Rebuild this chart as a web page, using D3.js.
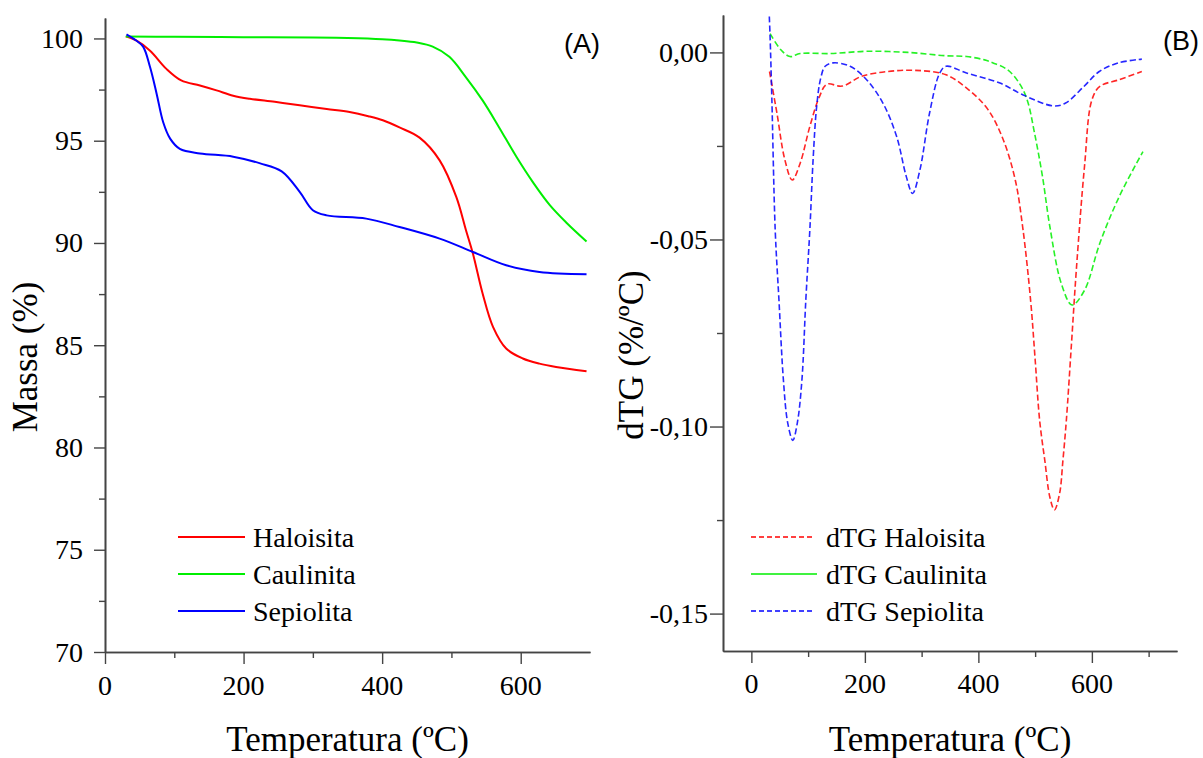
<!DOCTYPE html>
<html>
<head>
<meta charset="utf-8">
<script src="https://d3js.org/d3.v7.min.js"></script>
<style>
  body { margin: 0; background: #fff; }
  text { font-family: "Liberation Serif", "Times New Roman", serif; fill: #000; }
</style>
</head>
<body>
<div id="chart"></div>
<script>
// TG curves (panel A), temperatures in ºC, mass in %
var tgHalT = [30, 45, 65, 89, 110, 137, 161, 185, 209, 245, 281, 320, 353, 380, 401, 425, 454, 483, 507, 521, 531, 545, 560, 579, 603, 627, 651, 695];
var tgHal  = [100.1, 99.9, 99.4, 98.5, 97.95, 97.7, 97.46, 97.2, 97.05, 96.9, 96.73, 96.55, 96.4, 96.2, 96.0, 95.65, 95.15, 94.04, 92.25, 90.62, 89.48, 87.53, 85.9, 84.84, 84.35, 84.1, 83.94, 83.73];
var tgCauT = [30, 100, 200, 300, 350, 400, 425, 450, 473, 497, 521, 545, 568, 594, 618, 642, 666, 695];
var tgCau  = [100.1, 100.08, 100.06, 100.05, 100.02, 99.96, 99.9, 99.8, 99.6, 99.1, 98.1, 96.97, 95.7, 94.2, 92.95, 91.85, 90.99, 90.07];
var tgSepT = [31, 45, 55, 65, 74.5, 84, 94, 108, 137, 185, 224, 255, 281, 300, 320, 377, 425, 483, 531, 579, 627, 695];
var tgSep  = [100.2, 99.9, 99.6, 98.6, 97.3, 95.9, 95.1, 94.6, 94.38, 94.22, 93.89, 93.5, 92.5, 91.6, 91.35, 91.19, 90.78, 90.21, 89.56, 88.91, 88.58, 88.47];

// dTG curves (panel B), %/ºC
var dtgHalT = [32, 45, 59, 72, 86, 103, 120, 133, 160, 194, 241, 289, 343, 383, 417, 444, 465, 478, 492, 500, 508, 517, 526, 534, 543, 549, 555, 564, 573, 587, 600, 614, 648, 688];
var dtgHal  = [-0.0051, -0.0162, -0.0287, -0.0341, -0.0296, -0.0198, -0.0118, -0.0085, -0.009, -0.0064, -0.0051, -0.0048, -0.006, -0.01, -0.0153, -0.0234, -0.0341, -0.0466, -0.0662, -0.082, -0.0984, -0.109, -0.1189, -0.1223, -0.118, -0.109, -0.0984, -0.078, -0.0573, -0.0305, -0.0127, -0.0091, -0.0073, -0.0051];
var dtgCauT = [33, 52, 68, 86, 140, 203, 276, 343, 379, 411, 426, 451, 472, 486, 499, 513, 526, 546, 565, 587, 614, 648, 690];
var dtgCau  = [0.005, 0.0007, -0.0011, -0.0003, -0.0003, 0.0003, 0.0, -0.0009, -0.0011, -0.002, -0.0028, -0.0046, -0.0082, -0.0127, -0.0216, -0.0332, -0.0466, -0.0617, -0.0675, -0.0636, -0.051, -0.0386, -0.0265];
var dtgSepT = [31, 33, 36, 42, 48.6, 56.5, 64, 73, 81, 89, 96, 103, 109, 115, 122, 130, 144, 174, 203, 232, 256, 273, 284, 297, 314, 332, 343, 379, 438, 478, 532, 553, 586, 613, 647, 688];
var dtgSep  = [0.012, 0.004, -0.0118, -0.0475, -0.0662, -0.0877, -0.099, -0.1037, -0.099, -0.0877, -0.066, -0.0475, -0.028, -0.0145, -0.007, -0.0037, -0.0028, -0.0037, -0.0073, -0.0136, -0.0225, -0.0332, -0.0377, -0.0314, -0.0162, -0.0055, -0.0037, -0.0055, -0.0082, -0.0113, -0.0143, -0.0136, -0.0091, -0.0051, -0.0028, -0.0018];

var tgNames  = ["Haloisita", "Caulinita", "Sepiolita"];
var dtgNames = ["dTG Haloisita", "dTG Caulinita", "dTG Sepiolita"];
var colors   = ["#ff0000", "#00ee00", "#0000ff"];

var tempTicks = [0, 200, 400, 600];
var massTicks = [70, 75, 80, 85, 90, 95, 100];
var dtgTicks  = [0, -0.05, -0.10, -0.15];

var width = 1203, height = 758;
var serif = "'Liberation Serif', 'Times New Roman', Times, serif";
var svg = d3.select("#chart").append("svg")
    .attr("width", width)
    .attr("height", height);

var ptLocale = d3.formatLocale({decimal: ",", thousands: ".", grouping: [3], currency: ["", ""], minus: "-"});
var fmtB = ptLocale.format(".2f");

function zip(xs, ys) { return xs.map(function(x, i) { return [x, ys[i]]; }); }

function styleAxis(g) {
  g.select(".domain").attr("stroke", "#444").attr("stroke-width", 1.6);
  g.selectAll(".tick line").attr("stroke", "#444").attr("stroke-width", 1.4);
}

// tick labels drawn as plain svg text so they pick up the serif face
function xLabels(scale, vals, y) {
  svg.append("g").selectAll("text").data(vals).enter().append("text")
    .attr("x", d => scale(d)).attr("y", y)
    .attr("text-anchor", "middle")
    .style("font-family", serif)
    .style("font-size", "28px")
    .text(d => d);
}
function yLabels(scale, vals, x, fmt) {
  svg.append("g").selectAll("text").data(vals).enter().append("text")
    .attr("x", x).attr("y", d => scale(d) + 9.5)
    .attr("text-anchor", "end")
    .style("font-family", serif)
    .style("font-size", "28px")
    .text(fmt);
}

// ---------- panel A ----------
var xA = d3.scaleLinear().domain([0, 700]).range([105, 590]);
var yA = d3.scaleLinear().domain([70, 101]).range([652, 18]);

svg.append("g").attr("transform", "translate(0,652)")
  .call(d3.axisBottom(xA).tickValues([100, 300, 500]).tickSize(6).tickFormat("").tickSizeOuter(0))
  .call(styleAxis);
svg.append("g").attr("transform", "translate(0,652)")
  .call(d3.axisBottom(xA).tickValues(tempTicks).tickSize(12).tickFormat("").tickSizeOuter(0))
  .call(styleAxis);
svg.append("g").attr("transform", "translate(105,0)")
  .call(d3.axisLeft(yA).tickValues([72.5, 77.5, 82.5, 87.5, 92.5, 97.5]).tickSize(6).tickFormat("").tickSizeOuter(0))
  .call(styleAxis);
svg.append("g").attr("transform", "translate(105,0)")
  .call(d3.axisLeft(yA).tickValues(massTicks).tickSize(11).tickFormat("").tickSizeOuter(0))
  .call(styleAxis);
xLabels(xA, tempTicks, 695);
yLabels(yA, massTicks, 83, d => d);

var lineA = d3.line().x(d => xA(d[0])).y(d => yA(d[1])).curve(d3.curveCatmullRom.alpha(0.5));
var tgSeries = [zip(tgHalT, tgHal), zip(tgCauT, tgCau), zip(tgSepT, tgSep)];

svg.append("g").selectAll("path").data(tgSeries).enter().append("path")
  .attr("d", lineA)
  .attr("fill", "none")
  .attr("stroke", (d, i) => colors[i])
  .attr("stroke-width", 2);

var legA = svg.append("g").selectAll("g").data(tgNames).enter().append("g")
  .attr("transform", (d, i) => "translate(178," + (537 + i * 37) + ")");
legA.append("line").attr("x1", 0).attr("x2", 67)
  .attr("stroke", (d, i) => colors[i]).attr("stroke-width", 2);
legA.append("text").attr("x", 75).attr("y", 10)
  .style("font-size", "28px").text(d => d);

svg.append("text").attr("x", 347.5).attr("y", 751)
  .attr("text-anchor", "middle").style("font-size", "35px")
  .text("Temperatura (ºC)");
svg.append("text").attr("transform", "translate(37,357) rotate(-90)")
  .attr("text-anchor", "middle").style("font-size", "35px")
  .text("Massa (%)");
svg.append("text").attr("x", 582).attr("y", 53)
  .attr("text-anchor", "middle")
  .style("font-family", "'Liberation Sans', Arial, sans-serif").style("font-size", "27px")
  .text("(A)");

// ---------- panel B ----------
var xB = d3.scaleLinear().domain([-50, 750]).range([723, 1177]);
var yB = d3.scaleLinear().domain([-0.16, 0.01]).range([651, 15]);

svg.append("g").attr("transform", "translate(0,651)")
  .call(d3.axisBottom(xB).tickValues([100, 300, 500, 700]).tickSize(6).tickFormat("").tickSizeOuter(0))
  .call(styleAxis);
svg.append("g").attr("transform", "translate(0,651)")
  .call(d3.axisBottom(xB).tickValues(tempTicks).tickSize(12).tickFormat("").tickSizeOuter(0))
  .call(styleAxis);
svg.append("g").attr("transform", "translate(723,0)")
  .call(d3.axisLeft(yB).tickValues([-0.025, -0.075, -0.125]).tickSize(6).tickFormat("").tickSizeOuter(0))
  .call(styleAxis);
svg.append("g").attr("transform", "translate(723,0)")
  .call(d3.axisLeft(yB).tickValues(dtgTicks).tickSize(13).tickFormat("").tickSizeOuter(0))
  .call(styleAxis);
xLabels(xB, tempTicks, 693);
yLabels(yB, dtgTicks, 708, fmtB);

svg.append("defs").append("clipPath").attr("id", "clipB")
  .append("rect").attr("x", 724).attr("y", 15).attr("width", 454).attr("height", 636);

var lineB = d3.line().x(d => xB(d[0])).y(d => yB(d[1])).curve(d3.curveCatmullRom.alpha(0.5));
var dtgSeries = [zip(dtgHalT, dtgHal), zip(dtgCauT, dtgCau), zip(dtgSepT, dtgSep)];

svg.append("g").attr("clip-path", "url(#clipB)")
  .selectAll("path").data(dtgSeries).enter().append("path")
  .attr("d", lineB)
  .attr("fill", "none")
  .attr("stroke", (d, i) => colors[i])
  .attr("stroke-width", 1.6)
  .attr("stroke-opacity", 0.85)
  .attr("stroke-dasharray", "6,3");

var legB = svg.append("g").selectAll("g").data(dtgNames).enter().append("g")
  .attr("transform", (d, i) => "translate(751," + (537 + i * 37) + ")");
legB.append("line").attr("x1", 0).attr("x2", (d, i) => i == 1 ? 66 : 62)
  .attr("stroke", (d, i) => colors[i]).attr("stroke-width", 1.8)
  .attr("stroke-opacity", 0.75)
  .attr("stroke-dasharray", (d, i) => i == 1 ? null : "5,3");
legB.append("text").attr("x", 75).attr("y", 10)
  .style("font-size", "28px").text(d => d);

svg.append("text").attr("x", 950).attr("y", 751)
  .attr("text-anchor", "middle").style("font-size", "35px")
  .text("Temperatura (ºC)");
svg.append("text").attr("transform", "translate(643,355) rotate(-90)")
  .attr("text-anchor", "middle").style("font-size", "35px")
  .text("dTG (%/ºC)");
svg.append("text").attr("x", 1181).attr("y", 50)
  .attr("text-anchor", "middle")
  .style("font-family", "'Liberation Sans', Arial, sans-serif").style("font-size", "27px")
  .text("(B)");
</script>
</body>
</html>
